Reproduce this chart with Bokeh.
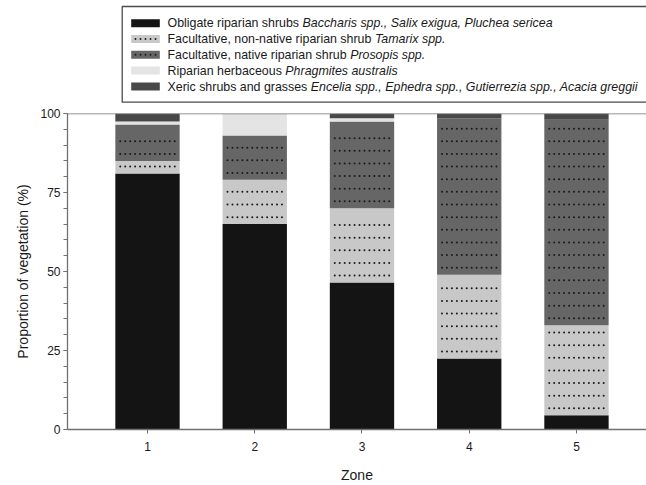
from bokeh.plotting import figure
from bokeh.models import Range1d, FixedTicker, Span, ColumnDataSource
from bokeh.layouts import column
from bokeh.core.properties import value
from bokeh.embed import file_html
from bokeh.resources import INLINE

# ---------------- data ----------------
zones = [1, 2, 3, 4, 5]
zone_labels = ["1", "2", "3", "4", "5"]
obligate = [81.0, 65.0, 46.5, 22.5, 4.5]
tamarix = [4.0, 14.0, 23.5, 26.5, 28.5]
prosopis = [11.5, 14.0, 27.5, 49.5, 65.0]
phragmites = [1.0, 7.0, 1.0, 0.0, 0.0]
xeric = [2.5, 0.0, 1.5, 1.5, 2.0]

series_names = ["obligate", "tamarix", "prosopis", "phragmites", "xeric"]
legend_regular = ["Obligate riparian shrubs ",
                  "Facultative, non-native riparian shrub ",
                  "Facultative, native riparian shrub ",
                  "Riparian herbaceous ",
                  "Xeric shrubs and grasses "]
legend_italic = ["Baccharis spp., Salix exigua, Pluchea sericea",
                 "Tamarix spp.",
                 "Prosopis spp.",
                 "Phragmites australis",
                 "Encelia spp., Ephedra spp., Gutierrezia spp., Acacia greggii"]
dotted = [False, True, True, False, False]

y_ticks = [0, 25, 50, 75, 100]

# ---------------- style ----------------
colors = ["#141414", "#c8c8c8", "#666666", "#e4e4e4", "#484848"]
FONT = "Liberation Sans"
AXIS_COL = "#707070"
TEXT_COL = "#1a1a1a"
DOT_COL = "#1a1a1a"
BAR_W = 0.6
W = 646

# Arial / Liberation Sans advance widths (per 1000 em)
CW = {' ': 278, ',': 278, '.': 278, '-': 333, '(': 333, ')': 333,
      'a': 556, 'b': 556, 'c': 500, 'd': 556, 'e': 556, 'f': 278, 'g': 556,
      'h': 556, 'i': 222, 'j': 222, 'k': 500, 'l': 222, 'm': 833, 'n': 556,
      'o': 556, 'p': 556, 'q': 556, 'r': 333, 's': 500, 't': 278, 'u': 556,
      'v': 500, 'w': 722, 'x': 500, 'y': 500, 'z': 500,
      'A': 667, 'B': 667, 'C': 722, 'E': 667, 'F': 611, 'G': 778, 'O': 778,
      'P': 667, 'R': 722, 'S': 667, 'T': 611, 'X': 667, 'Z': 611}


def text_width(s, size):
    return sum(CW.get(ch, 556) for ch in s) * size / 1000.0


# ---------------- legend figure ----------------
LEG_H = 108
leg = figure(width=W, height=LEG_H, output_backend="svg", toolbar_location=None,
             x_range=Range1d(0, W), y_range=Range1d(LEG_H, 0),
             x_axis_location=None, y_axis_location=None,
             min_border_left=0, min_border_right=0, min_border_top=0, min_border_bottom=0)
leg.outline_line_color = None
leg.xgrid.visible = False
leg.ygrid.visible = False
leg.frame_align = False

# box (right edge runs off the page as in the reference)
leg.quad(left=[121.7], right=[W + 20], top=[6.0], bottom=[101.7],
         fill_color=None, line_color="#4a4a4a", line_width=1.3)

row_y = [22.7, 38.5, 54.3, 70.1, 86.0]
sw_left, sw_right, sw_h = 130.7, 159.3, 8.0
txt_x = 167.0
LEG_FS = 12.4
leg.quad(left=[sw_left] * 5, right=[sw_right] * 5,
         top=[y - sw_h / 2 for y in row_y], bottom=[y + sw_h / 2 for y in row_y],
         fill_color=colors, line_color=None)
ldx, ldy = [], []
for i, y in enumerate(row_y):
    if dotted[i]:
        for k in range(5):
            ldx.append(135.0 + 5.0 * k)
            ldy.append(y)
leg.scatter(ldx, ldy, marker="circle", size=1.9, color=DOT_COL, line_color=None)

leg.text(x=[txt_x] * 5, y=row_y, text=legend_regular,
         text_font=value(FONT), text_font_size=f"{LEG_FS}px",
         text_baseline="middle", text_align="left", text_color=TEXT_COL)
leg.text(x=[txt_x + text_width(s, LEG_FS) for s in legend_regular], y=row_y,
         text=legend_italic, text_font=value(FONT), text_font_size=f"{LEG_FS}px",
         text_font_style="italic",
         text_baseline="middle", text_align="left", text_color=TEXT_COL)

# ---------------- main figure ----------------
MAIN_H = 377
p = figure(width=W, height=MAIN_H, output_backend="svg", toolbar_location=None,
           x_range=Range1d(0.254, 5.653), y_range=Range1d(0, 100),
           min_border_left=67, min_border_right=0, min_border_top=5, min_border_bottom=55)
p.outline_line_color = None
p.xgrid.visible = False
p.ygrid.visible = False
p.frame_align = False

src = ColumnDataSource(dict(zone=zones, obligate=obligate, tamarix=tamarix,
                            prosopis=prosopis, phragmites=phragmites, xeric=xeric))
p.vbar_stack(series_names, x="zone", width=BAR_W, source=src,
             color=colors, line_color=None)

# dotted texture rows inside the hatched segments (derived from the data)
dx, dy = [], []
series_vals = [obligate, tamarix, prosopis, phragmites, xeric]
for j, z in enumerate(zones):
    base = 0.0
    for s, vals in enumerate(series_vals):
        h = vals[j]
        if dotted[s] and h > 0:
            top = base + h
            yy = base + 2.2
            while yy <= top - 1.5:
                for k in range(1, 13):
                    dx.append(z - BAR_W / 2 + k * BAR_W / 13.0)
                    dy.append(yy)
                yy += 4.0
        base += h
p.scatter(dx, dy, marker="circle", size=2.0, color=DOT_COL, line_color=None)

# top frame line
p.add_layout(Span(location=100, dimension="width", line_color=AXIS_COL, line_width=1.3))

# axes
xa = p.xaxis[0]
xa.ticker = FixedTicker(ticks=zones, minor_ticks=[])
xa.major_label_overrides = {z: lab for z, lab in zip(zones, zone_labels)}
xa.axis_label = "Zone"
ya = p.yaxis[0]
ya.ticker = FixedTicker(ticks=y_ticks, minor_ticks=list(range(0, 101, 5)))
ya.axis_label = "Proportion of vegetation (%)"

for ax in (xa, ya):
    ax.axis_line_color = AXIS_COL
    ax.axis_line_width = 1.3
    ax.major_tick_line_color = AXIS_COL
    ax.minor_tick_line_color = AXIS_COL
    ax.major_tick_line_width = 1
    ax.minor_tick_line_width = 1
    ax.major_tick_in = 0
    ax.major_tick_out = 4
    ax.minor_tick_in = 0
    ax.minor_tick_out = 4
    ax.major_label_text_font = FONT
    ax.major_label_text_font_size = "12px"
    ax.major_label_text_color = TEXT_COL
    ax.axis_label_text_font = FONT
    ax.axis_label_text_font_size = "14px"
    ax.axis_label_text_font_style = "normal"
    ax.axis_label_text_color = TEXT_COL

xa.major_label_standoff = 8
xa.axis_label_standoff = 13
ya.major_label_standoff = 3
ya.axis_label_standoff = 6

layout = column(leg, p, spacing=0)
open("out.html", "w").write(file_html(layout, INLINE))
